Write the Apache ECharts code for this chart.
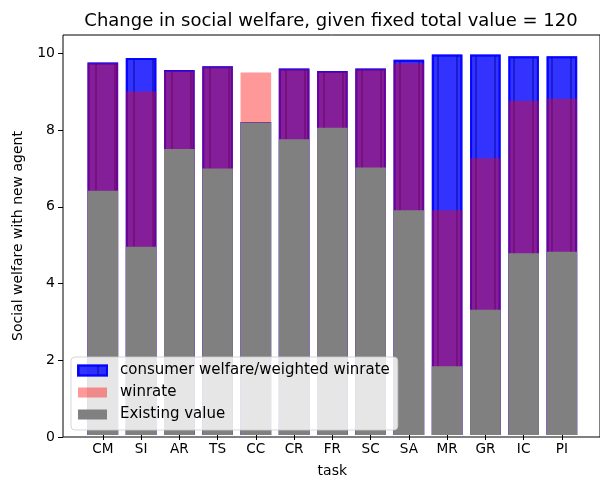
<!DOCTYPE html>
<html>
<head>
<meta charset="utf-8">
<script src="https://cdn.jsdelivr.net/npm/echarts@6/dist/echarts.min.js"></script>
<style>
  html, body { margin: 0; padding: 0; background: #fff; }
  #chart { width: 600px; height: 483px; }
</style>
</head>
<body>
<div id="chart"></div>
<script>
// categories and values
const tasks = ['CM', 'SI', 'AR', 'TS', 'CC', 'CR', 'FR', 'SC', 'SA', 'MR', 'GR', 'IC', 'PI'];
const consumerWelfare = [9.76, 9.88, 9.56, 9.66, 8.20, 9.60, 9.54, 9.60, 9.83, 9.97, 9.97, 9.92, 9.92];
const winrate = [9.74, 9.00, 9.54, 9.64, 9.50, 9.58, 9.52, 9.58, 9.74, 5.89, 7.25, 8.76, 8.81];
const existingValue = [6.40, 4.93, 7.49, 6.98, 8.19, 7.75, 8.05, 7.01, 5.89, 1.80, 3.28, 4.76, 4.80];
const yTicks = [0, 2, 4, 6, 8, 10];
const yMax = 10.48;

const font = 'DejaVu Sans';
const chart = echarts.init(document.getElementById('chart'));

// legend swatch 29x10 followed by an empty gap, so the label sits further right
const swatch = 'path://M0,0h29v10h-29z M37,5';

const option = {
  animation: false,
  title: {
    text: 'Change in social welfare, given fixed total value = 120',
    left: 326,
    top: 7,
    textAlign: 'center',
    textStyle: { fontFamily: font, fontSize: 18, fontWeight: 'normal', color: '#000' }
  },
  legend: {
    orient: 'vertical',
    left: 71,
    top: 357,
    itemWidth: 37,
    itemHeight: 10,
    itemGap: 7,
    padding: [6, 8, 8, 6],
    backgroundColor: 'rgba(255,255,255,0.8)',
    borderColor: 'rgba(204,204,204,0.8)',
    borderWidth: 1,
    borderRadius: 4,
    icon: swatch,
    textStyle: { fontFamily: font, fontSize: 15, color: '#000' },
    data: ['consumer welfare/weighted winrate', 'winrate', 'Existing value']
  },
  grid: [
    // frame of the axes
    { left: 63, top: 35, width: 540, height: 402, show: true, borderColor: '#000', borderWidth: 1, backgroundColor: 'transparent' },
    // bars area (matplotlib margins on the x axis)
    { left: 83.7, top: 35, width: 497.3, height: 402 }
  ],
  xAxis: [
    { gridIndex: 0, type: 'value', min: 0, max: 1, show: false },
    {
      gridIndex: 1,
      type: 'category',
      data: tasks,
      axisLine: { show: false },
      axisTick: { show: true, alignWithLabel: true, interval: 0, length: 5, lineStyle: { color: '#000' } },
      axisLabel: { interval: 0, margin: 7, fontFamily: font, fontSize: 13.6, color: '#000' },
      name: 'task',
      nameLocation: 'middle',
      nameGap: 29,
      nameTextStyle: { fontFamily: font, fontSize: 14, color: '#000' }
    }
  ],
  yAxis: [
    {
      gridIndex: 0,
      type: 'value',
      min: 0,
      max: yMax,
      axisLine: { show: false },
      splitLine: { show: false },
      axisTick: { show: true, length: 5, customValues: yTicks, lineStyle: { color: '#000' } },
      axisLabel: { customValues: yTicks, margin: 8, fontFamily: font, fontSize: 14, color: '#000' },
      name: 'Social welfare with new agent',
      nameLocation: 'middle',
      nameGap: 38,
      nameTextStyle: { fontFamily: font, fontSize: 14, color: '#000' }
    },
    { gridIndex: 1, type: 'value', min: 0, max: yMax, show: false }
  ],
  series: [
    {
      name: 'consumer welfare/weighted winrate',
      type: 'bar',
      xAxisIndex: 1,
      yAxisIndex: 1,
      barWidth: '80%',
      barGap: '-100%',
      silent: true,
      itemStyle: {
        color: 'rgba(0,0,255,0.8)',
        borderColor: 'rgba(0,0,255,0.8)',
        borderWidth: 2,
        // vertical hatch lines
        decal: {
          symbol: 'rect',
          symbolSize: 1,
          dashArrayX: [2, 17],
          dashArrayY: [10, 0],
          color: 'rgba(0,0,160,0.45)'
        }
      },
      data: consumerWelfare
    },
    {
      name: 'winrate',
      type: 'bar',
      xAxisIndex: 1,
      yAxisIndex: 1,
      barWidth: '80%',
      barGap: '-100%',
      silent: true,
      itemStyle: { color: 'rgba(255,0,0,0.4)' },
      data: winrate
    },
    {
      name: 'Existing value',
      type: 'bar',
      xAxisIndex: 1,
      yAxisIndex: 1,
      barWidth: '80%',
      barGap: '-100%',
      silent: true,
      itemStyle: { color: '#808080' },
      data: existingValue
    }
  ]
};

chart.setOption(option);
</script>
</body>
</html>
